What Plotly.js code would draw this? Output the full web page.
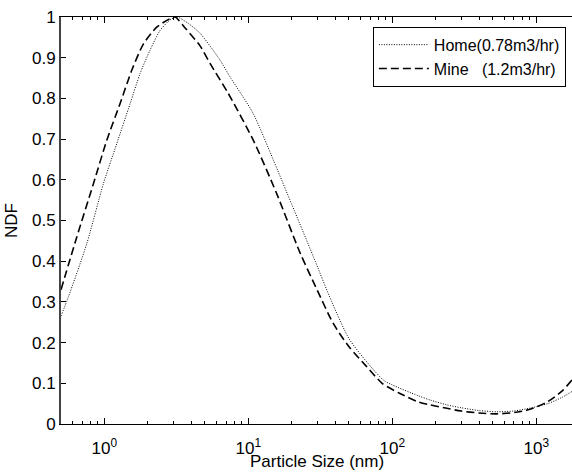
<!DOCTYPE html>
<html>
<head>
<meta charset="utf-8">
<script src="https://cdn.plot.ly/plotly-3.0.1.min.js"></script>
<style>html,body{margin:0;padding:0;background:#fff}#chart{width:572px;height:472px}</style>
</head>
<body>
<div id="chart"></div>
<script>
// Particle size (nm) and normalized distribution function (NDF)
const homeSize = [0.5, 0.562, 0.755, 0.984, 1.22, 1.51, 1.77, 2.08, 2.44, 2.86, 3.2, 3.8, 4.62, 6.36, 7.46, 10.8, 14.9, 20, 28.3, 38, 50.8, 86.6, 100, 150, 183, 239, 300, 400, 531, 700, 903, 1200, 1500, 1770];
const homeNDF  = [0.265, 0.312, 0.443, 0.590, 0.689, 0.787, 0.861, 0.919, 0.967, 0.993, 1.0, 0.985, 0.96, 0.894, 0.853, 0.763, 0.649, 0.54, 0.411, 0.30, 0.206, 0.108, 0.096, 0.07, 0.059, 0.047, 0.040, 0.033, 0.030, 0.032, 0.039, 0.05, 0.065, 0.08];

const mineSize = [0.5, 0.643, 0.839, 1.04, 1.285, 1.55, 1.87, 2.31, 2.86, 3.1, 3.6, 4.62, 5.42, 7.26, 10.8, 15.7, 22.9, 30, 38.9, 50, 66.4, 85, 113, 150, 183, 239, 300, 400, 531, 700, 903, 1200, 1500, 1770];
const mineNDF  = [0.33, 0.459, 0.590, 0.697, 0.787, 0.869, 0.934, 0.975, 0.996, 1.0, 0.975, 0.929, 0.886, 0.812, 0.698, 0.567, 0.42, 0.33, 0.247, 0.19, 0.141, 0.10, 0.075, 0.055, 0.047, 0.0385, 0.032, 0.027, 0.025, 0.028, 0.036, 0.055, 0.08, 0.108];

const seriesNames = ["Home(0.78m3/hr)", "Mine\u00a0\u00a0\u00a0(1.2m3/hr)"];
const xTitle = "Particle Size (nm)";
const yTitle = "NDF";
const xTickVals = [1, 10, 100, 1000];
const xTickText = ["10<sup>0</sup>", "10<sup>1</sup>", "10<sup>2</sup>", "10<sup>3</sup>"];
const xMinorVals = [0.6,0.7,0.8,0.9,2,3,4,5,6,7,8,9,20,30,40,50,60,70,80,90,200,300,400,500,600,700,800,900];
const yTickVals = [0,0.1,0.2,0.3,0.4,0.5,0.6,0.7,0.8,0.9,1];

const font = {family: "Liberation Sans, Arial, sans-serif", size: 17, color: "#000"};

const traces = [
  {x: homeSize, y: homeNDF, name: seriesNames[0], mode: "lines", line: {color: "#000", width: 1, dash: "1px,1.5px", shape: "spline", smoothing: 0.7}},
  {x: mineSize, y: mineNDF, name: seriesNames[1], mode: "lines", line: {color: "#000", width: 1.6, dash: "8px,4px", shape: "spline", smoothing: 0.7}}
];

const layout = {
  width: 572, height: 472,
  margin: {l: 61, r: 0, t: 17, b: 48},
  paper_bgcolor: "#fff", plot_bgcolor: "#fff",
  font: font,
  showlegend: true,
  legend: {x: 0.988, xanchor: "right", y: 0.976, yanchor: "top", bgcolor: "#fff", bordercolor: "#000", borderwidth: 1,
           itemwidth: 50, tracegroupgap: 0, font: {family: font.family, size: 16, color: "#000"}},
  xaxis: {
    type: "log", range: [Math.log10(0.5), 3.248],
    tickvals: xTickVals, ticktext: xTickText,
    ticks: "inside", ticklen: 6, tickcolor: "#000", ticklabelstandoff: 9,
    showline: true, linecolor: "#000", linewidth: 1, mirror: "ticks",
    showgrid: false, zeroline: false,
    minor: {tickvals: xMinorVals, ticks: "inside", ticklen: 3, tickcolor: "#000", showgrid: false},
    tickfont: font
  },
  yaxis: {
    range: [0, 1],
    tickvals: yTickVals,
    ticks: "inside", ticklen: 5, tickcolor: "#000",
    showline: true, linecolor: "#444", linewidth: 2, mirror: false,
    showgrid: false, zeroline: false,
    title: {text: yTitle, font: font, standoff: 10},
    tickfont: font
  },
  annotations: [
    {text: xTitle, xref: "paper", yref: "paper", x: 0.5, y: -0.092, xanchor: "center", yanchor: "middle", showarrow: false, font: font}
  ]
};

Plotly.newPlot("chart", traces, layout, {staticPlot: true});
</script>
</body>
</html>
